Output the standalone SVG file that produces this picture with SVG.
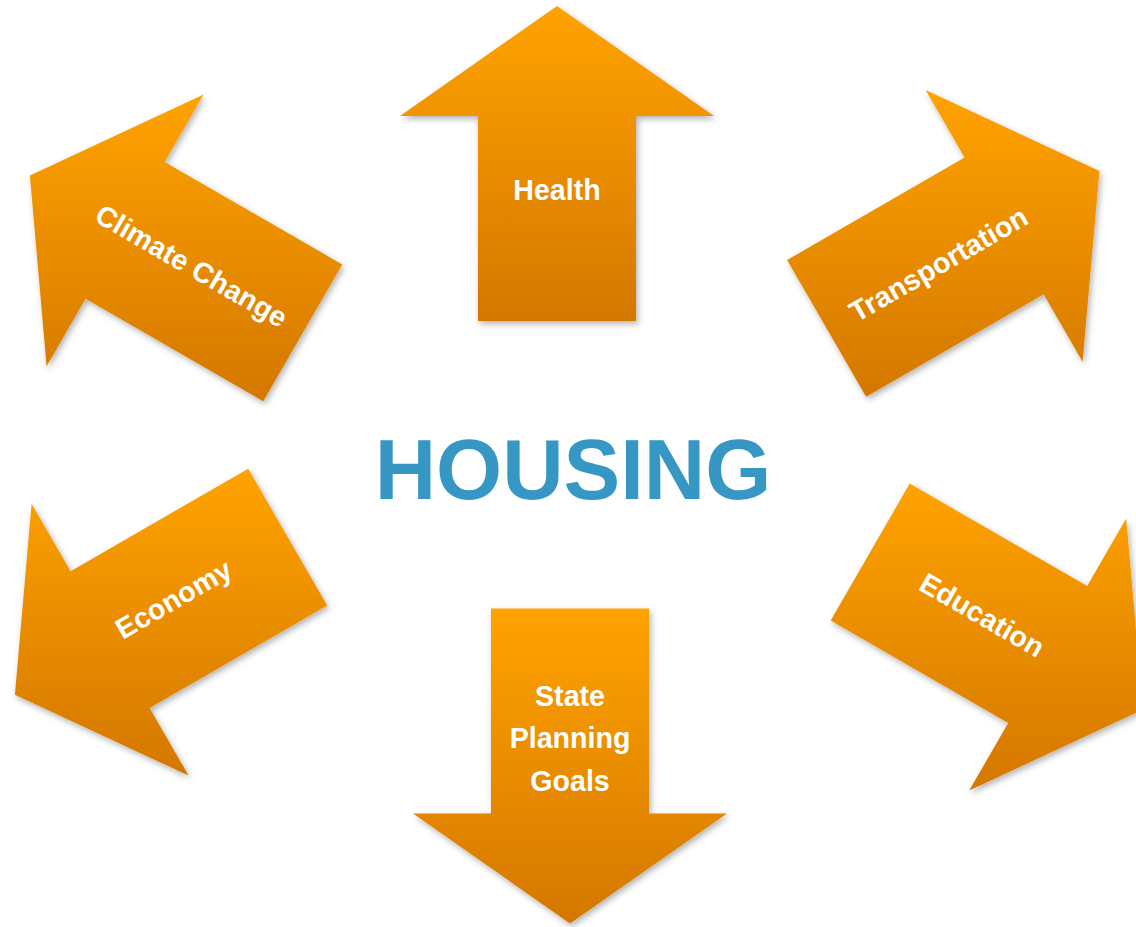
<svg xmlns="http://www.w3.org/2000/svg" width="1136" height="927" viewBox="0 0 1136 927">
<defs>
<linearGradient id="og" x1="0" y1="0" x2="0" y2="1">
<stop offset="0" stop-color="#FFA300"/>
<stop offset="1" stop-color="#D47700"/>
</linearGradient>
<filter id="sh" x="-10%" y="-10%" width="120%" height="120%">
<feDropShadow dx="2" dy="3" stdDeviation="3" flood-color="#000" flood-opacity="0.3"/>
</filter>
</defs>
<style>
.arrow{fill:url(#og);filter:url(#sh);}
.lbl{fill:#fff;font-family:"Liberation Sans",Arial,sans-serif;font-weight:bold;font-size:28.6px;text-anchor:middle;}
.title{fill:#3797C4;font-family:"Liberation Sans",Arial,sans-serif;font-weight:bold;font-size:85px;text-anchor:middle;}
</style>
<rect width="1136" height="927" fill="#fff"/>
<g id="connectors"/>
<g id="health">
<polygon class="arrow" points="557,6 714,116 636,116 636,321 478,321 478,116 400,116"/>
<text class="lbl" x="557" y="200">Health</text>
</g>
<g id="transportation">
<polygon class="arrow" points="1099.4,170.9 1082.6,361.8 1043.6,294.3 866.1,396.8 787.1,259.9 964.6,157.4 925.6,89.9"/>
<text class="lbl" transform="translate(939,265) rotate(-30)" y="9">Transportation</text>
</g>
<g id="education">
<polygon class="arrow" points="1143,709.6 969.2,790.5 1008.2,723 830.7,620.5 909.7,483.6 1087.2,586.1 1126.2,518.6"/>
<text class="lbl" transform="translate(981.7,615.8) rotate(30)" y="9">Education</text>
</g>
<g id="state-planning-goals">
<polygon class="arrow" points="570,923.5 413,813.5 491,813.5 491,608.5 649,608.5 649,813.5 727,813.5"/>
<text class="lbl" x="570" y="706">State</text>
<text class="lbl" x="570" y="748">Planning</text>
<text class="lbl" x="570" y="791">Goals</text>
</g>
<g id="economy">
<polygon class="arrow" points="14.9,694.7 31.6,503.7 70.6,571.2 248.2,468.7 327.2,605.6 149.6,708.1 188.6,775.6"/>
<text class="lbl" transform="translate(174,600) rotate(-30)" y="9">Economy</text>
</g>
<g id="climate-change">
<polygon class="arrow" points="29.9,175.4 203.6,94.4 164.6,161.9 342.2,264.4 263.2,401.3 85.6,298.8 46.6,366.3"/>
<text class="lbl" transform="translate(191,266.7) rotate(30)" y="9">Climate Change</text>
</g>
<g id="housing">
<text class="title" x="573" y="499">HOUSING</text>
</g>
</svg>
